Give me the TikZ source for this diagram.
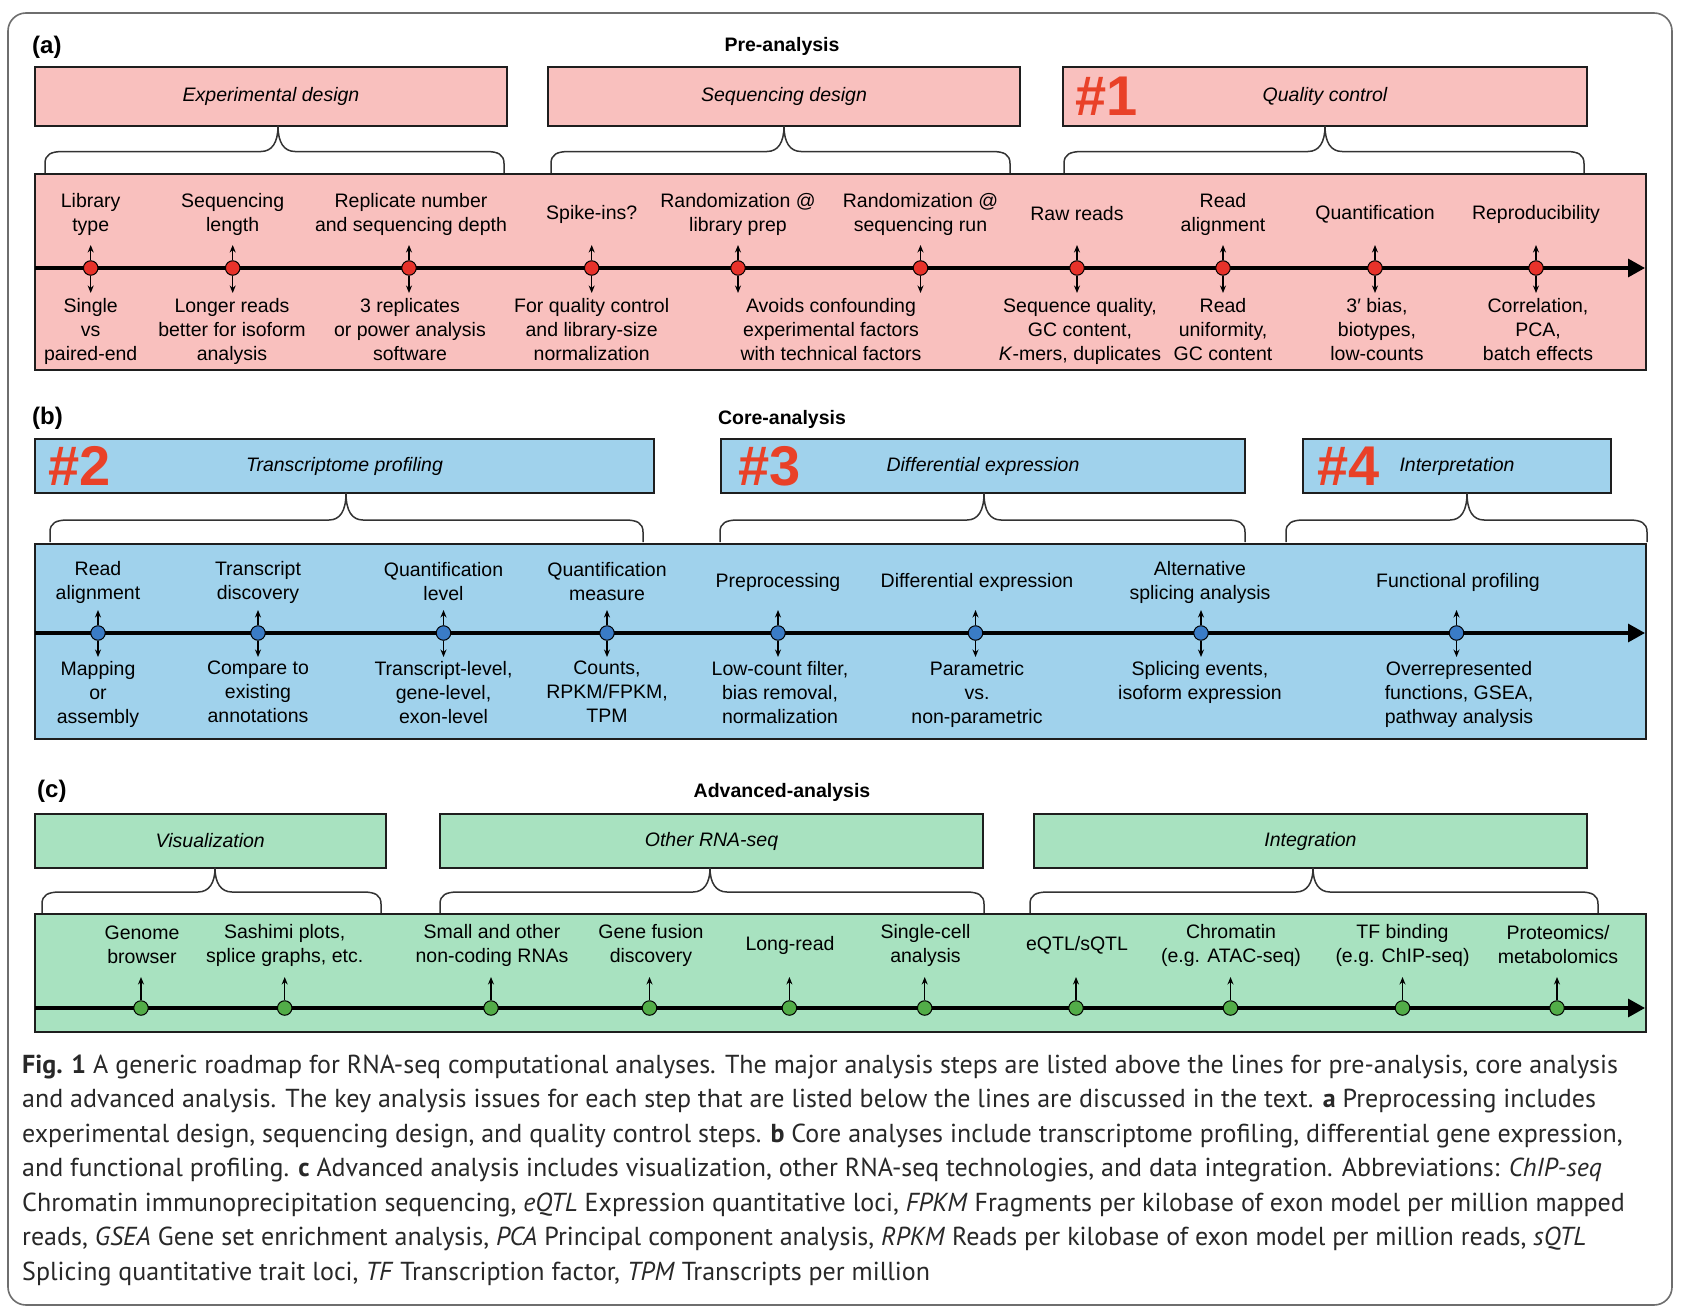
\documentclass[tikz,border=0pt]{standalone}
\usepackage{fontspec}
\setmainfont{Liberation Sans}
\newfontfamily\capfont{PT Sans}
\usetikzlibrary{arrows.meta}

\definecolor{pinkfill}{RGB}{249,192,190}
\definecolor{bluefill}{RGB}{160,210,236}
\definecolor{greenfill}{RGB}{168,226,192}
\definecolor{reddot}{RGB}{232,50,42}
\definecolor{bluedot}{RGB}{58,124,198}
\definecolor{greendot}{RGB}{82,173,72}
\definecolor{hashred}{RGB}{233,65,40}
\definecolor{framegray}{RGB}{110,110,110}
\definecolor{captext}{RGB}{40,40,40}
\definecolor{edge}{RGB}{30,30,30}

\newcommand{\sizelabel}{\fontsize{19.5}{24}\selectfont}

% curly brace under a heading box: left x, tip x, right x, tip y, bar y, foot y
\newcommand{\stagebrace}[6]{%
  \draw[bracestroke] (#1,#6) -- (#1,#5+12)
    .. controls (#1,#5+3) and (#1+6,#5) .. (#1+18,#5)
    -- (#2-17,#5)
    .. controls (#2-6,#5) and (#2,#5-9) .. (#2,#4)
    .. controls (#2,#5-9) and (#2+6,#5) .. (#2+17,#5)
    -- (#3-18,#5)
    .. controls (#3-6,#5) and (#3,#5+3) .. (#3,#5+12)
    -- (#3,#6);}

\tikzset{
  headbox/.style={draw=edge, line width=2pt, inner sep=0pt, font=\sizelabel\itshape},
  bandbox/.style={draw=edge, line width=2pt, inner sep=0pt},
  axisline/.style={line width=3.2pt, -{Triangle[length=17pt,width=18pt]}},
  stepdot/.style={circle, draw=black, line width=1pt, minimum size=14.5pt, inner sep=0pt},
  tick/.style={line width=1.1pt, -{Stealth[length=7.5pt,width=6pt]}},
  toplabel/.style={font=\sizelabel, align=center, inner sep=0pt},
  botlabel/.style={font=\sizelabel, align=center, inner sep=0pt, anchor=north},
  hashtag/.style={font=\fontsize{56}{56}\selectfont\bfseries, text=hashred, inner sep=0pt, anchor=west},
  panel/.style={font=\fontsize{24}{28}\selectfont\bfseries, inner sep=0pt, anchor=west},
  stage/.style={font=\sizelabel\bfseries, inner sep=0pt},
  bracestroke/.style={line width=1.5pt, draw=black!80, line join=round},
  capline/.style={font=\capfont\fontsize{26}{34}\selectfont, text=captext, inner sep=0pt, anchor=base west}
}

\begin{document}
\begin{tikzpicture}[x=1pt,y=-1pt]
\fill[white] (0,0) rectangle (1684,1314);
\useasboundingbox (0,0) rectangle (1684,1314);
\draw[framegray, line width=1.6pt, rounded corners=18pt] (8,13) rectangle (1672,1305);

% ---------------- (a) Pre-analysis ----------------
\node[panel] (pa) at (32,47) {(a)};
\node[stage] (pre) at (782,46) {Pre-analysis};

\node[headbox, fill=pinkfill, minimum width=472pt, minimum height=58pt] (expd) at (271,96.5) {Experimental design};
\node[headbox, fill=pinkfill, minimum width=472pt, minimum height=58pt] (seqd) at (784,96.5) {Sequencing design};
\node[headbox, fill=pinkfill, minimum width=524pt, minimum height=58pt] (qc) at (1325,96.5) {Quality control};
\node[hashtag] (h1) at ([xshift=13pt]qc.west) {\#1};

\stagebrace{45}{278}{504}{126}{151.5}{173}
\stagebrace{551}{784}{1010}{126}{151.5}{173}
\stagebrace{1064}{1325}{1584}{126}{151.5}{173}

\node[bandbox, fill=pinkfill, minimum width=1611pt, minimum height=196pt] (bandA) at (840.5,272) {};
\coordinate (axAs) at (35,268);
\coordinate (axAe) at (1645,268);
\coordinate (upA) at (0,245);
\coordinate (dnA) at (0,293);
\draw[axisline] (axAs) -- (axAe);

\foreach \n/\x in {1/90.7,2/232.7,3/409,4/591.7,5/738,6/920.5,7/1077,8/1223,9/1375,10/1536}{
  \node[stepdot, fill=reddot] (a\n) at (\x,268) {};
  \draw[tick] (a\n.north) -- (a\n.north |- upA);
  \draw[tick] (a\n.south) -- (a\n.south |- dnA);
}

\node[toplabel] (ta1) at (90.7,214) {Library\\type};
\node[toplabel] (ta2) at (232.7,214) {Sequencing\\length};
\node[toplabel] (ta3) at (411,214) {Replicate number\\and sequencing depth};
\node[toplabel] (ta4) at (591.7,214) {Spike-ins?};
\node[toplabel] (ta5) at (738,214) {Randomization @\\library prep};
\node[toplabel] (ta6) at (920.5,214) {Randomization @\\sequencing run};
\node[toplabel] (ta7) at (1077,214) {Raw reads};
\node[toplabel] (ta8) at (1223,214) {Read\\alignment};
\node[toplabel] (ta9) at (1375,214) {Quantification};
\node[toplabel] (ta10) at (1536,214) {Reproducibility};

\node[botlabel] (ba1) at (90.7,298) {Single\\vs\\paired-end};
\node[botlabel] (ba2) at (232,298) {Longer reads\\better for isoform\\analysis};
\node[botlabel] (ba3) at (410,298) {3 replicates\\or power analysis\\software};
\node[botlabel] (ba4) at (591.7,298) {For quality control\\and library-size\\normalization};
\node[botlabel] (ba56) at (831,298) {Avoids confounding\\experimental factors\\with technical factors};
\node[botlabel] (ba7) at (1080,298) {Sequence quality,\\GC content,\\\textit{K}-mers, duplicates};
\node[botlabel] (ba8) at (1223,298) {Read\\uniformity,\\GC content};
\node[botlabel] (ba9) at (1377,298) {3′ bias,\\biotypes,\\low-counts};
\node[botlabel] (ba10) at (1538,298) {Correlation,\\PCA,\\batch effects};

% ---------------- (b) Core-analysis ----------------
\node[panel] (pb) at (32,418) {(b)};
\node[stage] (core) at (782,419) {Core-analysis};

\node[headbox, fill=bluefill, minimum width=619pt, minimum height=54pt] (tprof) at (344.5,466) {Transcriptome profiling};
\node[headbox, fill=bluefill, minimum width=524pt, minimum height=54pt] (dexp) at (983,466) {Differential expression};
\node[headbox, fill=bluefill, minimum width=308pt, minimum height=54pt] (interp) at (1457,466) {Interpretation};
\node[hashtag] (h2) at ([xshift=14pt]tprof.west) {\#2};
\node[hashtag] (h3) at ([xshift=18pt]dexp.west) {\#3};
\node[hashtag] (h4) at ([xshift=15pt]interp.west) {\#4};

\stagebrace{50}{346}{643}{493}{520}{542}
\stagebrace{720}{984}{1245}{493}{520}{542}
\stagebrace{1286}{1467}{1647}{493}{520}{542}

\node[bandbox, fill=bluefill, minimum width=1611pt, minimum height=195pt] (bandB) at (840.5,641.5) {};
\coordinate (axBs) at (35,633);
\coordinate (axBe) at (1645,633);
\coordinate (upB) at (0,610);
\coordinate (dnB) at (0,657);
\draw[axisline] (axBs) -- (axBe);

\foreach \n/\x in {1/98,2/258,3/443.5,4/607,5/778,6/975.5,7/1201,8/1456.5}{
  \node[stepdot, fill=bluedot] (b\n) at (\x,633) {};
  \draw[tick] (b\n.north) -- (b\n.north |- upB);
  \draw[tick] (b\n.south) -- (b\n.south |- dnB);
}

\node[toplabel] (tb1) at (98,582) {Read\\alignment};
\node[toplabel] (tb2) at (258,582) {Transcript\\discovery};
\node[toplabel] (tb3) at (443.5,582) {Quantification\\level};
\node[toplabel] (tb4) at (607,582) {Quantification\\measure};
\node[toplabel] (tb5) at (778,582) {Preprocessing};
\node[toplabel] (tb6) at (977,582) {Differential expression};
\node[toplabel] (tb7) at (1200,582) {Alternative\\splicing analysis};
\node[toplabel] (tb8) at (1458,582) {Functional profiling};

\node[botlabel] (bb1) at (98,661) {Mapping\\or\\assembly};
\node[botlabel] (bb2) at (258,661) {Compare to\\existing\\annotations};
\node[botlabel] (bb3) at (443.5,661) {Transcript-level,\\gene-level,\\exon-level};
\node[botlabel] (bb4) at (607,661) {Counts,\\RPKM/FPKM,\\TPM};
\node[botlabel] (bb5) at (780,661) {Low-count filter,\\bias removal,\\normalization};
\node[botlabel] (bb6) at (977,661) {Parametric\\vs.\\non-parametric};
\node[botlabel] (bb7) at (1200,661) {Splicing events,\\isoform expression};
\node[botlabel] (bb8) at (1459,661) {Overrepresented\\functions, GSEA,\\pathway analysis};

% ---------------- (c) Advanced-analysis ----------------
\node[panel] (pc) at (37,791) {(c)};
\node[stage] (adv) at (782,792) {Advanced-analysis};

\node[headbox, fill=greenfill, minimum width=351pt, minimum height=54pt] (vis) at (210.3,841) {Visualization};
\node[headbox, fill=greenfill, minimum width=543pt, minimum height=54pt] (ornaseq) at (711.5,841) {Other RNA-seq};
\node[headbox, fill=greenfill, minimum width=553pt, minimum height=54pt] (integ) at (1310.5,841) {Integration};

\stagebrace{42}{215}{381}{868}{892}{913}
\stagebrace{440}{710}{984}{868}{892}{913}
\stagebrace{1030}{1313}{1598}{868}{892}{913}

\node[bandbox, fill=greenfill, minimum width=1611pt, minimum height=118pt] (bandC) at (840.5,973) {};
\coordinate (axCs) at (35,1008);
\coordinate (axCe) at (1645,1008);
\coordinate (upC) at (0,977);
\draw[axisline] (axCs) -- (axCe);

\foreach \n/\x in {1/141,2/284.7,3/491,4/649.5,5/789.4,6/924.7,7/1076,8/1230.5,9/1402.5,10/1557}{
  \node[stepdot, fill=greendot] (c\n) at (\x,1008) {};
  \draw[tick] (c\n.north) -- (c\n.north |- upC);
}

\node[toplabel] (tc1) at (142,945) {Genome\\browser};
\node[toplabel] (tc2) at (284.7,945) {Sashimi plots,\\splice graphs, etc.};
\node[toplabel] (tc3) at (492,945) {Small and other\\non-coding RNAs};
\node[toplabel] (tc4) at (651,945) {Gene fusion\\discovery};
\node[toplabel] (tc5) at (790,945) {Long-read};
\node[toplabel] (tc6) at (925.5,945) {Single-cell\\analysis};
\node[toplabel] (tc7) at (1077,945) {eQTL/sQTL};
\node[toplabel] (tc8) at (1231,945) {Chromatin\\(e.g. ATAC-seq)};
\node[toplabel] (tc9) at (1402.5,945) {TF binding\\(e.g. ChIP-seq)};
\node[toplabel] (tc10) at (1558,945) {Proteomics/\\metabolomics};

% ---------------- caption ----------------
\node[capline] (cap1) at (22,1073) {\textbf{Fig. 1} A generic roadmap for RNA-seq computational analyses. The major analysis steps are listed above the lines for pre-analysis, core analysis};
\node[capline] (cap2) at (22,1107.5) {and advanced analysis. The key analysis issues for each step that are listed below the lines are discussed in the text. \textbf{a} Preprocessing includes};
\node[capline] (cap3) at (22,1142) {experimental design, sequencing design, and quality control steps. \textbf{b} Core analyses include transcriptome profiling, differential gene expression,};
\node[capline] (cap4) at (22,1176.5) {and functional profiling. \textbf{c} Advanced analysis includes visualization, other RNA-seq technologies, and data integration. Abbreviations: \textit{ChIP-seq}};
\node[capline] (cap5) at (22,1211) {Chromatin immunoprecipitation sequencing, \textit{eQTL} Expression quantitative loci, \textit{FPKM} Fragments per kilobase of exon model per million mapped};
\node[capline] (cap6) at (22,1245.5) {reads, \textit{GSEA} Gene set enrichment analysis, \textit{PCA} Principal component analysis, \textit{RPKM} Reads per kilobase of exon model per million reads, \textit{sQTL}};
\node[capline] (cap7) at (22,1280) {Splicing quantitative trait loci, \textit{TF} Transcription factor, \textit{TPM} Transcripts per million};
\end{tikzpicture}
\end{document}
